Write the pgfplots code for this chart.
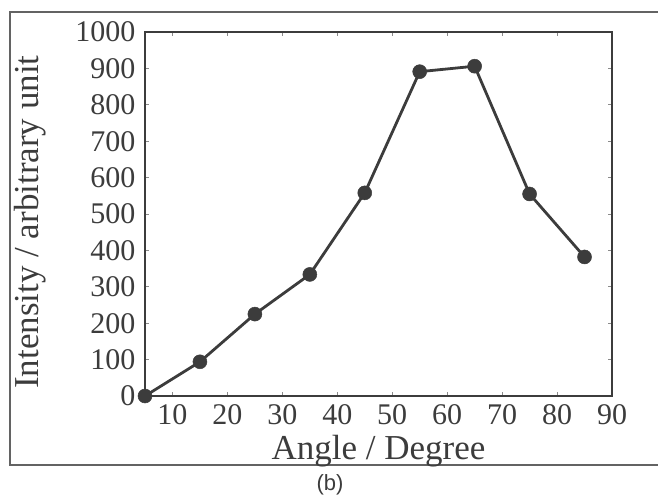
\documentclass[border=0pt]{standalone}
\usepackage{fontspec}
\setmainfont{Liberation Serif}
\setsansfont{Liberation Sans}
\usepackage{pgfplots}
\pgfplotsset{compat=1.18}
\definecolor{ink}{HTML}{3C3C3C}

\begin{document}
\begin{tikzpicture}[x=1pt,y=1pt]
% the axis box sits at (0,0)-(467,364); picture is 658x500 px, axis box at px (145,32)-(612,396)
\path[use as bounding box] (-145,-104) rectangle (513,396);
% outer frame of the figure (open on the right, as in the scan)
\draw[ink!80, line width=1.3pt] (513,384) -- (-135,384) -- (-135,-69) -- (513,-69);
\node[font=\sffamily\fontsize{22}{24}\selectfont, text=ink] at (185,-89) {(b)};
\begin{axis}[
    anchor=south west,
    width=467pt, height=364pt, scale only axis,
    xmin=5, xmax=90, ymin=0, ymax=1000,
    xtick={10,20,...,90},
    ytick={0,100,...,1000},
    tick align=inside,
    major tick length=4pt,
    tick style={ink!60, line width=0.7pt},
    axis line style={ink, line width=1.4pt},
    tick label style={font=\fontsize{30}{32}\selectfont, text=ink},
    /pgf/number format/assume math mode=true,
    /pgf/number format/1000 sep={},
    xticklabel style={yshift=-5pt},
    yticklabel style={xshift=-6pt},
    label style={font=\fontsize{35}{38}\selectfont, text=ink},
    xlabel={Angle / Degree},
    ylabel={Intensity / arbitrary unit},
    xlabel style={at={(axis description cs:0.5,-0.152)}, anchor=center},
    ylabel style={at={(axis description cs:-0.246,0.478)}, anchor=center},
    clip=false,
]
\addplot[ink, line width=2.8pt, mark=*, mark size=7pt,
    mark options={fill=ink, draw=ink, line width=0.5pt}]
    coordinates {(5,0) (15,94) (25,225) (35,334) (45,558) (55,891) (65,906) (75,555) (85,382)};
\end{axis}
\end{tikzpicture}
\end{document}
